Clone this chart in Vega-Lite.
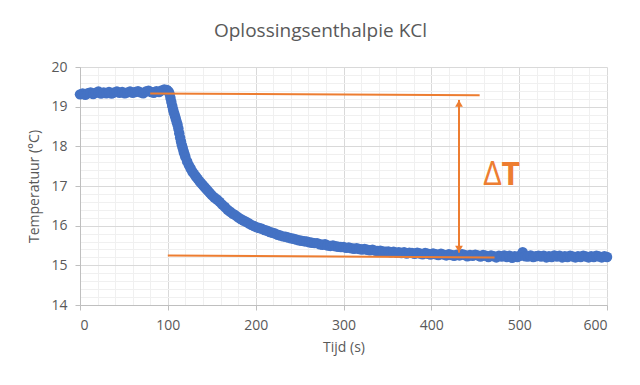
{
  "$schema": "https://vega.github.io/schema/vega-lite/v6.json",
  "width": 527,
  "height": 238,
  "autosize": {"type": "none"},
  "padding": {"left": 80, "top": 67, "right": 33, "bottom": 80},
  "background": "white",
  "title": {"text": "Oplossingsenthalpie KCl", "font": "Open Sans", "fontSize": 19, "fontWeight": "normal", "color": "#595959", "dx": -23, "offset": 19},
  "config": {
    "view": {"stroke": null}
  },
  "datasets": {
    "temp": [
      {"tijd":0,"temp":19.31},{"tijd":3,"temp":19.33},{"tijd":6,"temp":19.30},{"tijd":9,"temp":19.34},{"tijd":12,"temp":19.36},{"tijd":15,"temp":19.32},{"tijd":18,"temp":19.35},{"tijd":21,"temp":19.38},{"tijd":24,"temp":19.33},{"tijd":27,"temp":19.36},
      {"tijd":30,"temp":19.34},{"tijd":33,"temp":19.37},{"tijd":36,"temp":19.33},{"tijd":39,"temp":19.36},{"tijd":42,"temp":19.38},{"tijd":45,"temp":19.35},{"tijd":48,"temp":19.37},{"tijd":51,"temp":19.34},{"tijd":54,"temp":19.36},{"tijd":57,"temp":19.38},
      {"tijd":60,"temp":19.35},{"tijd":63,"temp":19.37},{"tijd":66,"temp":19.39},{"tijd":69,"temp":19.36},{"tijd":72,"temp":19.34},{"tijd":75,"temp":19.38},{"tijd":78,"temp":19.40},{"tijd":81,"temp":19.37},{"tijd":84,"temp":19.35},{"tijd":87,"temp":19.39},
      {"tijd":90,"temp":19.37},{"tijd":93,"temp":19.41},{"tijd":96,"temp":19.43},{"tijd":99,"temp":19.42},{"tijd":101,"temp":19.38},{"tijd":102,"temp":19.32},{"tijd":103,"temp":19.22},{"tijd":104,"temp":19.12},{"tijd":105,"temp":19.02},{"tijd":106,"temp":18.93},
      {"tijd":107,"temp":18.85},{"tijd":108,"temp":18.78},{"tijd":109,"temp":18.70},{"tijd":110,"temp":18.62},{"tijd":111,"temp":18.55},{"tijd":112,"temp":18.45},{"tijd":113,"temp":18.33},{"tijd":114,"temp":18.22},{"tijd":115,"temp":18.12},{"tijd":116,"temp":18.03},
      {"tijd":117,"temp":17.95},{"tijd":118,"temp":17.87},{"tijd":119,"temp":17.80},{"tijd":120,"temp":17.73},{"tijd":122,"temp":17.62},{"tijd":124,"temp":17.52},{"tijd":126,"temp":17.44},{"tijd":128,"temp":17.36},{"tijd":130,"temp":17.30},{"tijd":132,"temp":17.24},
      {"tijd":134,"temp":17.18},{"tijd":136,"temp":17.12},{"tijd":138,"temp":17.07},{"tijd":140,"temp":17.02},{"tijd":142,"temp":16.97},{"tijd":144,"temp":16.92},{"tijd":146,"temp":16.87},{"tijd":148,"temp":16.82},{"tijd":150,"temp":16.77},{"tijd":153,"temp":16.71},
      {"tijd":156,"temp":16.66},{"tijd":159,"temp":16.60},{"tijd":162,"temp":16.53},{"tijd":165,"temp":16.47},{"tijd":168,"temp":16.40},{"tijd":171,"temp":16.35},{"tijd":174,"temp":16.30},{"tijd":177,"temp":16.26},{"tijd":180,"temp":16.21},{"tijd":183,"temp":16.17},
      {"tijd":186,"temp":16.13},{"tijd":189,"temp":16.10},{"tijd":192,"temp":16.06},{"tijd":195,"temp":16.02},{"tijd":198,"temp":15.99},{"tijd":201,"temp":15.96},{"tijd":204,"temp":15.94},{"tijd":207,"temp":15.92},{"tijd":210,"temp":15.89},{"tijd":213,"temp":15.87},
      {"tijd":216,"temp":15.84},{"tijd":219,"temp":15.82},{"tijd":222,"temp":15.80},{"tijd":225,"temp":15.77},{"tijd":228,"temp":15.75},{"tijd":231,"temp":15.73},{"tijd":234,"temp":15.72},{"tijd":237,"temp":15.70},{"tijd":240,"temp":15.68},{"tijd":243,"temp":15.67},
      {"tijd":246,"temp":15.65},{"tijd":249,"temp":15.63},{"tijd":252,"temp":15.62},{"tijd":255,"temp":15.61},{"tijd":258,"temp":15.60},{"tijd":261,"temp":15.58},{"tijd":264,"temp":15.57},{"tijd":267,"temp":15.56},{"tijd":270,"temp":15.56},{"tijd":273,"temp":15.53},
      {"tijd":276,"temp":15.52},{"tijd":279,"temp":15.53},{"tijd":282,"temp":15.50},{"tijd":285,"temp":15.49},{"tijd":288,"temp":15.50},{"tijd":291,"temp":15.48},{"tijd":294,"temp":15.47},{"tijd":297,"temp":15.46},{"tijd":300,"temp":15.46},{"tijd":303,"temp":15.44},
      {"tijd":306,"temp":15.45},{"tijd":309,"temp":15.43},{"tijd":312,"temp":15.42},{"tijd":315,"temp":15.43},{"tijd":318,"temp":15.41},{"tijd":321,"temp":15.40},{"tijd":324,"temp":15.41},{"tijd":327,"temp":15.39},{"tijd":330,"temp":15.38},{"tijd":333,"temp":15.39},
      {"tijd":336,"temp":15.37},{"tijd":339,"temp":15.36},{"tijd":342,"temp":15.37},{"tijd":345,"temp":15.35},{"tijd":348,"temp":15.34},{"tijd":351,"temp":15.35},{"tijd":354,"temp":15.33},{"tijd":357,"temp":15.34},{"tijd":360,"temp":15.32},{"tijd":363,"temp":15.33},
      {"tijd":366,"temp":15.31},{"tijd":369,"temp":15.33},{"tijd":372,"temp":15.30},{"tijd":375,"temp":15.32},{"tijd":378,"temp":15.31},{"tijd":381,"temp":15.29},{"tijd":384,"temp":15.32},{"tijd":387,"temp":15.30},{"tijd":390,"temp":15.28},{"tijd":393,"temp":15.31},
      {"tijd":396,"temp":15.29},{"tijd":399,"temp":15.27},{"tijd":402,"temp":15.30},{"tijd":405,"temp":15.28},{"tijd":408,"temp":15.26},{"tijd":411,"temp":15.29},{"tijd":414,"temp":15.27},{"tijd":417,"temp":15.25},{"tijd":420,"temp":15.28},{"tijd":423,"temp":15.26},
      {"tijd":426,"temp":15.24},{"tijd":429,"temp":15.27},{"tijd":432,"temp":15.25},{"tijd":435,"temp":15.28},{"tijd":438,"temp":15.26},{"tijd":441,"temp":15.23},{"tijd":444,"temp":15.26},{"tijd":447,"temp":15.24},{"tijd":450,"temp":15.27},{"tijd":453,"temp":15.25},
      {"tijd":456,"temp":15.22},{"tijd":459,"temp":15.26},{"tijd":462,"temp":15.24},{"tijd":465,"temp":15.21},{"tijd":468,"temp":15.25},{"tijd":471,"temp":15.23},{"tijd":474,"temp":15.20},{"tijd":477,"temp":15.24},{"tijd":480,"temp":15.22},{"tijd":483,"temp":15.25},
      {"tijd":486,"temp":15.21},{"tijd":489,"temp":15.24},{"tijd":492,"temp":15.19},{"tijd":495,"temp":15.23},{"tijd":498,"temp":15.21},{"tijd":501,"temp":15.24},{"tijd":504,"temp":15.33},{"tijd":507,"temp":15.23},{"tijd":510,"temp":15.22},{"tijd":513,"temp":15.25},
      {"tijd":516,"temp":15.21},{"tijd":519,"temp":15.23},{"tijd":522,"temp":15.24},{"tijd":525,"temp":15.22},{"tijd":528,"temp":15.24},{"tijd":531,"temp":15.20},{"tijd":534,"temp":15.23},{"tijd":537,"temp":15.21},{"tijd":540,"temp":15.25},{"tijd":543,"temp":15.22},
      {"tijd":546,"temp":15.24},{"tijd":549,"temp":15.20},{"tijd":552,"temp":15.23},{"tijd":555,"temp":15.21},{"tijd":558,"temp":15.24},{"tijd":561,"temp":15.22},{"tijd":564,"temp":15.20},{"tijd":567,"temp":15.23},{"tijd":570,"temp":15.21},{"tijd":573,"temp":15.24},
      {"tijd":576,"temp":15.22},{"tijd":579,"temp":15.20},{"tijd":582,"temp":15.23},{"tijd":585,"temp":15.21},{"tijd":588,"temp":15.24},{"tijd":591,"temp":15.22},{"tijd":594,"temp":15.20},{"tijd":597,"temp":15.23},{"tijd":600,"temp":15.21}
    ],
    "lijnen": [
      {"lijn":"boven","tijd":80,"temp":19.33},{"lijn":"boven","tijd":455,"temp":19.29},
      {"lijn":"onder","tijd":100,"temp":15.245},{"lijn":"onder","tijd":472,"temp":15.2}
    ],
    "pijl": [{"tijd":431.5,"y1":15.32,"y2":19.17}],
    "koppen": [{"tijd":431.5,"temp":19.08,"vorm":"triangle-up"},{"tijd":431.5,"temp":15.41,"vorm":"triangle-down"}],
    "delta": [{"tijd":459,"temp":17.27,"tekst":"Δ"}],
    "tletter": [{"tijd":480,"temp":17.27,"tekst":"T"}]
  },
  "resolve": {"axis": {"x": "independent", "y": "independent"}},
  "layer": [
    {
      "data": {"name": "temp"},
      "mark": {"type": "point", "filled": true, "size": 110, "opacity": 1, "color": "#4472C4"},
      "encoding": {
        "x": {"field": "tijd", "type": "quantitative", "scale": {"domain": [0, 600], "nice": false},
          "axis": {"orient": "bottom", "values": [20,40,60,80,120,140,160,180,220,240,260,280,320,340,360,380,420,440,460,480,520,540,560,580], "grid": true, "gridColor": "#f0f0f0", "domain": false, "ticks": false, "labels": false, "title": null}},
        "y": {"field": "temp", "type": "quantitative", "scale": {"domain": [14, 20], "nice": false, "zero": false},
          "axis": {"orient": "left", "values": [14.2,14.4,14.6,14.8,15.2,15.4,15.6,15.8,16.2,16.4,16.6,16.8,17.2,17.4,17.6,17.8,18.2,18.4,18.6,18.8,19.2,19.4,19.6,19.8], "grid": true, "gridColor": "#f0f0f0", "domain": false, "ticks": false, "labels": false, "title": null}}
      }
    },
    {
      "data": {"name": "lijnen"},
      "mark": {"type": "line", "color": "#ED7D31", "strokeWidth": 2},
      "encoding": {
        "x": {"field": "tijd", "type": "quantitative",
          "axis": {"orient": "bottom", "values": [0,100,200,300,400,500,600], "grid": true, "gridColor": "#d9d9d9", "domainColor": "#bfbfbf", "tickColor": "#bfbfbf", "tickSize": 5, "labelPadding": 8, "labelFont": "Open Sans", "labelFontSize": 14, "labelColor": "#595959", "title": "Tijd (s)", "titleFont": "Open Sans", "titleFontSize": 14, "titleFontWeight": "normal", "titleColor": "#595959", "titlePadding": 8}},
        "y": {"field": "temp", "type": "quantitative",
          "axis": {"orient": "left", "values": [14,15,16,17,18,19,20], "grid": true, "gridColor": "#d9d9d9", "domainColor": "#bfbfbf", "tickColor": "#bfbfbf", "tickSize": 5, "labelPadding": 8, "labelFont": "Open Sans", "labelFontSize": 14, "labelColor": "#595959", "title": "Temperatuur (°C)", "titleFont": "Open Sans", "titleFontSize": 14, "titleFontWeight": "normal", "titleColor": "#595959", "titlePadding": 9}},
        "detail": {"field": "lijn"}
      }
    },
    {
      "data": {"name": "pijl"},
      "mark": {"type": "rule", "color": "#ED7D31", "strokeWidth": 2},
      "encoding": {
        "x": {"field": "tijd", "type": "quantitative", "axis": null},
        "y": {"field": "y1", "type": "quantitative", "axis": null},
        "y2": {"field": "y2"}
      }
    },
    {
      "data": {"name": "koppen"},
      "mark": {"type": "point", "filled": true, "size": 60, "opacity": 1, "color": "#ED7D31"},
      "encoding": {
        "x": {"field": "tijd", "type": "quantitative", "axis": null},
        "y": {"field": "temp", "type": "quantitative", "axis": null},
        "shape": {"field": "vorm", "type": "nominal", "scale": null, "legend": null}
      }
    },
    {
      "data": {"name": "delta"},
      "mark": {"type": "text", "color": "#ED7D31", "font": "Open Sans", "fontSize": 32, "fontWeight": "normal", "align": "left", "baseline": "middle"},
      "encoding": {
        "x": {"field": "tijd", "type": "quantitative", "axis": null},
        "y": {"field": "temp", "type": "quantitative", "axis": null},
        "text": {"field": "tekst"}
      }
    },
    {
      "data": {"name": "tletter"},
      "mark": {"type": "text", "color": "#ED7D31", "font": "Open Sans", "fontSize": 32, "fontWeight": "bold", "align": "left", "baseline": "middle"},
      "encoding": {
        "x": {"field": "tijd", "type": "quantitative", "axis": null},
        "y": {"field": "temp", "type": "quantitative", "axis": null},
        "text": {"field": "tekst"}
      }
    }
  ]
}
